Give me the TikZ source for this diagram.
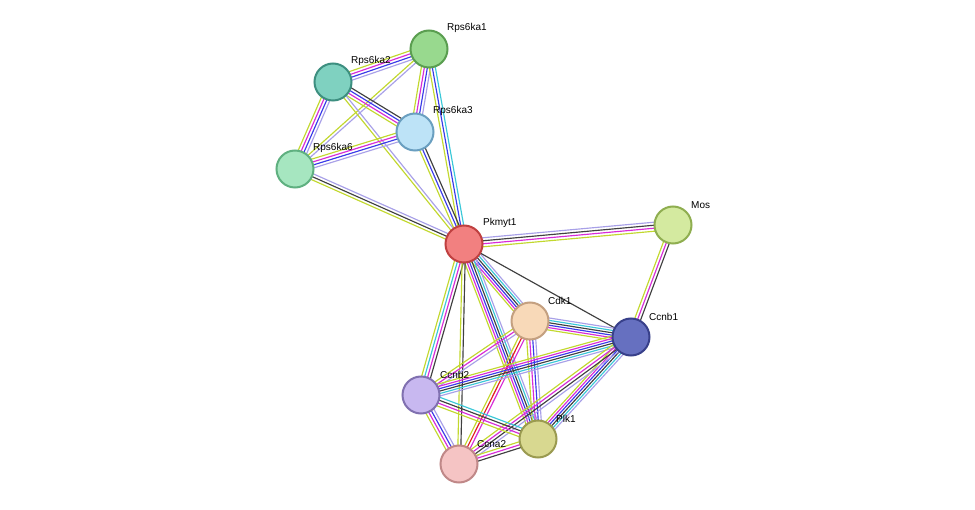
\documentclass[tikz,border=0pt]{standalone}
\usepackage{fontspec}
\setmainfont{Liberation Sans}
\usetikzlibrary{calc}
\definecolor{yg}{HTML}{C2D82E}
\definecolor{mg}{HTML}{D82BD8}
\definecolor{bl}{HTML}{3A3AE8}
\definecolor{bk}{HTML}{404040}
\definecolor{cy}{HTML}{3AC8D8}
\definecolor{lp}{HTML}{A8A0E8}
\definecolor{rd}{HTML}{E02020}
\newcommand\sedge[3]{\edef\edgelist{#3}\foreach \c/\o in \edgelist {\draw[draw=\c,line width=1.15pt] ($(#1)!\o pt!90:(#2)$) -- ($(#2)!\o pt!-90:(#1)$);}}
\begin{document}
\begin{tikzpicture}[x=1pt,y=-1pt,
  prot/.style={circle,minimum size=37pt,line width=2pt,inner sep=0pt},
  lab/.style={font=\fontsize{10}{11}\selectfont,anchor=south west,inner sep=0pt}]
\useasboundingbox (0,0) rectangle (975,510);
\fill[white] (0,0) rectangle (975,510);
\coordinate (rs1) at (429,49);
\coordinate (rs2) at (333,82);
\coordinate (rs3) at (415,132);
\coordinate (rs6) at (295,169);
\coordinate (pk) at (464,244);
\coordinate (mos) at (673,225);
\coordinate (cdk) at (530,321);
\coordinate (cb1) at (631,337);
\coordinate (cb2) at (421,395);
\coordinate (plk) at (538,439);
\coordinate (ca2) at (459,464);
\def\six{yg/-6,mg/-3.6,bl/-1.2,bk/1.2,cy/3.6,lp/6}
\sedge{rs1}{rs2}{yg/-4.5,mg/-1.5,bl/1.5,lp/4.5}
\sedge{rs1}{rs3}{yg/-4.5,mg/-1.5,bl/1.5,lp/4.5}
\sedge{rs1}{rs6}{yg/-1.5,lp/1.5}
\sedge{rs1}{pk}{yg/-3,bl/0,cy/3}
\sedge{rs2}{rs3}{yg/-4.5,mg/-1.5,bl/1.5,bk/4.5}
\sedge{rs2}{rs6}{yg/-4.5,mg/-1.5,bl/1.5,lp/4.5}
\sedge{rs2}{pk}{yg/-1.5,lp/1.5}
\sedge{rs3}{rs6}{yg/-4.5,mg/-1.5,bl/1.5,lp/4.5}
\sedge{rs3}{pk}{yg/-3,bl/0,bk/3}
\sedge{rs6}{pk}{yg/-3,bk/0,lp/3}
\sedge{pk}{mos}{yg/-4.5,mg/-1.5,bk/1.5,lp/4.5}
\sedge{pk}{cdk}{\six}
\sedge{pk}{cb1}{bk/0}
\sedge{pk}{cb2}{yg/-4.5,cy/-1.5,mg/1.5,bk/4.5}
\sedge{pk}{plk}{\six}
\sedge{pk}{ca2}{yg/-1.5,bk/1.5}
\sedge{mos}{cb1}{yg/-3,mg/0,bk/3}
\sedge{cdk}{cb1}{\six}
\sedge{cdk}{cb2}{yg/-3,mg/0,lp/3}
\sedge{cdk}{plk}{yg/-4.5,mg/-1.5,bl/1.5,lp/4.5}
\sedge{cdk}{ca2}{yg/-3,rd/0,mg/3}
\sedge{cb1}{cb2}{\six}
\sedge{cb1}{plk}{\six}
\sedge{cb1}{ca2}{yg/-4.5,mg/-1.5,bk/1.5,lp/4.5}
\sedge{cb2}{plk}{yg/-4.5,mg/-1.5,bk/1.5,cy/4.5}
\sedge{cb2}{ca2}{yg/-4.5,mg/-1.5,bl/1.5,lp/4.5}
\sedge{plk}{ca2}{yg/-3,mg/0,bk/3}
\node[prot,fill={rgb,255:red,152;green,217;blue,142},draw={rgb,255:red,90;green,158;blue,80}] (n1) at (rs1) {};
\node[prot,fill={rgb,255:red,127;green,209;blue,192},draw={rgb,255:red,61;green,143;blue,128}] (n2) at (rs2) {};
\node[prot,fill={rgb,255:red,189;green,227;blue,247},draw={rgb,255:red,106;green,159;blue,192}] (n3) at (rs3) {};
\node[prot,fill={rgb,255:red,166;green,230;blue,192},draw={rgb,255:red,95;green,176;blue,128}] (n6) at (rs6) {};
\node[prot,fill={rgb,255:red,242;green,128;blue,128},draw={rgb,255:red,192;green,64;blue,64}] (npk) at (pk) {};
\node[prot,fill={rgb,255:red,212;green,234;blue,160},draw={rgb,255:red,143;green,174;blue,80}] (nmos) at (mos) {};
\node[prot,fill={rgb,255:red,248;green,217;blue,184},draw={rgb,255:red,196;green,160;blue,128}] (ncdk) at (cdk) {};
\node[prot,fill={rgb,255:red,102;green,112;blue,192},draw={rgb,255:red,56;green,64;blue,138}] (ncb1) at (cb1) {};
\node[prot,fill={rgb,255:red,200;green,184;blue,240},draw={rgb,255:red,128;green,112;blue,176}] (ncb2) at (cb2) {};
\node[prot,fill={rgb,255:red,216;green,216;blue,144},draw={rgb,255:red,154;green,154;blue,80}] (nplk) at (plk) {};
\node[prot,fill={rgb,255:red,245;green,196;blue,196},draw={rgb,255:red,192;green,136;blue,136}] (nca2) at (ca2) {};
\node[lab] (l1) at (447,33) {Rps6ka1};
\node[lab] (l2) at (351,66) {Rps6ka2};
\node[lab] (l3) at (433,116) {Rps6ka3};
\node[lab] (l6) at (313,153) {Rps6ka6};
\node[lab] (lpk) at (483,228) {Pkmyt1};
\node[lab] (lmos) at (691,209) {Mos};
\node[lab] (lcdk) at (548,305) {Cdk1};
\node[lab] (lcb1) at (649,321) {Ccnb1};
\node[lab] (lcb2) at (440,379) {Ccnb2};
\node[lab] (lplk) at (556,423) {Plk1};
\node[lab] (lca2) at (477,448) {Ccna2};
\end{tikzpicture}
\end{document}
